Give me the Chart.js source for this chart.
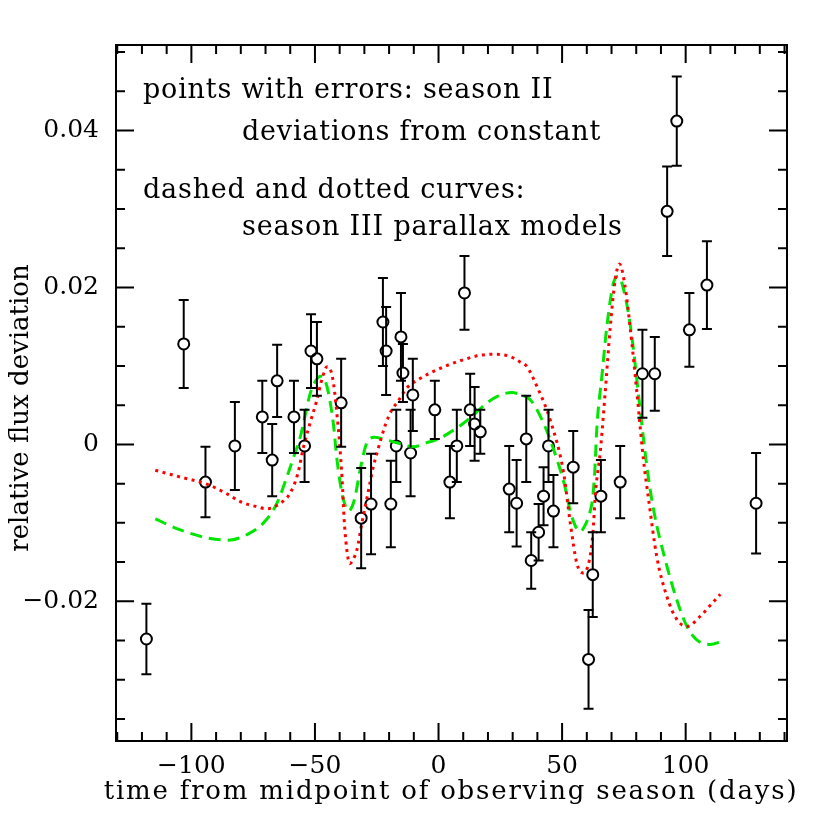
<!DOCTYPE html>
<html>
<head>
<meta charset="utf-8">
<script src="https://cdn.jsdelivr.net/npm/chart.js@4.4.1/dist/chart.umd.min.js"></script>
<style>
  html, body { margin: 0; padding: 0; background: #fff; }
</style>
</head>
<body>
<canvas id="myChart" width="830" height="830"></canvas>
<script>
// season II points (days, relative flux deviation, 1-sigma error)
var tDays = [-118.2, -103.1, -94.3, -82.4, -71.3, -67.3, -65.3, -58.5, -54.2, -51.6,
             -49.2, -39.4, -31.3, -27.3, -22.5, -21.2, -19.3, -17.1, -15.2, -14.4,
             -11.3, -10.4, -1.5, 4.6, 7.4, 10.5, 12.8, 14.6, 16.9, 28.6,
             31.6, 35.5, 37.5, 40.5, 42.5, 44.5, 46.5, 54.5, 60.7, 62.4,
             65.7, 73.5, 82.5, 87.5, 92.5, 96.4, 101.5, 108.6, 128.5];
var flux = [-0.0248, 0.0128, -0.0048, -0.0002, 0.0035, -0.0020, 0.0081, 0.0035, -0.0002, 0.0119,
            0.0109, 0.0053, -0.0094, -0.0076, 0.0156, 0.0119, -0.0076, -0.0002, 0.0137, 0.0091,
            -0.0011, 0.0063, 0.0044, -0.0048, -0.0002, 0.0193, 0.0044, 0.0026, 0.0016, -0.0057,
            -0.0075, 0.0007, -0.0148, -0.0112, -0.0066, -0.0002, -0.0085, -0.0029, -0.0274, -0.0166,
            -0.0066, -0.0048, 0.0090, 0.0090, 0.0297, 0.0412, 0.0146, 0.0203, -0.0075];
var fluxErr = [0.0045, 0.0056, 0.0045, 0.0056, 0.0046, 0.0046, 0.0046, 0.0046, 0.0046, 0.0047,
               0.0047, 0.0056, 0.0064, 0.0064, 0.0056, 0.0056, 0.0055, 0.0046, 0.0056, 0.0037,
               0.0055, 0.0046, 0.0037, 0.0046, 0.0046, 0.0047, 0.0046, 0.0047, 0.0028, 0.0055,
               0.0055, 0.0055, 0.0036, 0.0036, 0.0037, 0.0046, 0.0046, 0.0046, 0.0063, 0.0054,
               0.0046, 0.0046, 0.0056, 0.0047, 0.0057, 0.0057, 0.0047, 0.0056, 0.0064];

// season III parallax models
var dottedT = [-114.6, -104, -94.3, -85, -80.2, -74, -69.4, -64, -60, -57,
               -54.6, -52, -49.2, -47, -45.1, -44, -42.5, -41, -40, -39,
               -38.2, -37.2, -35.9, -34.6, -33, -31, -28.3, -26.5, -24.9, -21.5,
               -18.9, -16.8, -12.8, -8, -3.4, 3, 10.1, 16, 22.2, 29,
               33, 35.8, 39.8, 45.2, 50.6, 53.3, 56, 58.6, 61, 62.4,
               63.6, 65.4, 67.4, 69.5, 71.5, 73.2, 75.5, 77.5, 80.3, 82.9,
               85, 88.3, 92.4, 96.4, 100.5, 105.9, 110, 114];
var dottedF = [-0.0033, -0.0042, -0.0050, -0.0064, -0.0073, -0.0079, -0.0082, -0.0075, -0.0062, -0.0038,
               -0.0003, 0.0027, 0.0057, 0.0085, 0.0099, 0.0097, 0.0078, 0.0035, 0.0000, -0.0045,
               -0.0095, -0.0132, -0.0152, -0.0147, -0.0134, -0.0100, -0.0058, -0.0030, -0.0011, 0.0025,
               0.0044, 0.0053, 0.0072, 0.0083, 0.0091, 0.0100, 0.0108, 0.0113, 0.0115, 0.0112,
               0.0105, 0.0099, 0.0074, 0.0031, -0.0036, -0.0100, -0.0152, -0.0164, -0.0148, -0.0115,
               -0.0058, -0.0011, 0.0065, 0.0150, 0.0210, 0.0230, 0.0201, 0.0150, 0.0065, -0.0019,
               -0.0070, -0.0143, -0.0194, -0.0223, -0.0232, -0.0219, -0.0205, -0.0191];

var dashedT = [-114.6, -104.5, -92.4, -85, -77.5, -70.8, -65.4, -61.3, -58.5, -55.9,
               -51.9, -49.5, -47.9, -46, -44.5, -42.5, -41.1, -39.1, -37.5, -36.4,
               -34.8, -33.7, -31.7, -29, -26, -23.6, -16.8, -10.1, -5, -0.6,
               5, 10.1, 15, 19.6, 25, 29.7, 34, 37.1, 42.5, 47.9,
               51, 53.3, 55.5, 57.3, 59.3, 60.7, 62.3, 63.2, 64.1, 66.1,
               68.1, 70.8, 72.8, 75.5, 78.2, 81.6, 84.3, 87, 92.4, 96.4,
               100.5, 104.5, 109.9, 114.6];
var dashedF = [-0.0095, -0.0109, -0.0120, -0.0122, -0.0115, -0.0100, -0.0075, -0.0041, -0.0015, 0.0010,
               0.0065, 0.0082, 0.0087, 0.0082, 0.0065, 0.0025, -0.0019, -0.0062, -0.0080, -0.0085,
               -0.0078, -0.0066, -0.0032, 0.0002, 0.0009, 0.0008, 0.0002, -0.0003, 0.0002, 0.0006,
               0.0016, 0.0027, 0.0040, 0.0053, 0.0063, 0.0066, 0.0062, 0.0057, 0.0027, -0.0019,
               -0.0052, -0.0085, -0.0105, -0.0111, -0.0103, -0.0092, -0.0070, -0.0035, 0.0023, 0.0087,
               0.0150, 0.0206, 0.0214, 0.0189, 0.0138, 0.0044, -0.0028, -0.0083, -0.0155, -0.0198,
               -0.0232, -0.0249, -0.0255, -0.0251];

var noteLines = ['points with errors: season II', 'deviations from constant',
                 'dashed and dotted curves:', 'season III parallax models'];

var FONT = "'DejaVu Serif', serif";

function xy(xs, ys) {
  return xs.map(function (v, i) { return {x: v, y: ys[i]}; });
}
function fmtTick(v, digits) {
  if (Math.abs(v) < 1e-9) return '0';
  var s = Math.abs(v).toFixed(digits);
  return v < 0 ? '\u2212' + s : s;
}

var framePlugin = {
  id: 'frame',
  afterDatasetsDraw: function (chart) {
    var ctx = chart.ctx, xs = chart.scales.x, ys = chart.scales.y;
    ctx.save();
    ctx.strokeStyle = '#000';
    ctx.lineWidth = 2;
    var r = 5.5, cap = 5;
    for (var i = 0; i < tDays.length; i++) {
      var px = xs.getPixelForValue(tDays[i]);
      var pc = ys.getPixelForValue(flux[i]);
      var pt = ys.getPixelForValue(flux[i] + fluxErr[i]);
      var pb = ys.getPixelForValue(flux[i] - fluxErr[i]);
      ctx.beginPath();
      ctx.moveTo(px, pt); ctx.lineTo(px, pc - r);
      ctx.moveTo(px, pc + r); ctx.lineTo(px, pb);
      ctx.moveTo(px - cap, pt); ctx.lineTo(px + cap, pt);
      ctx.moveTo(px - cap, pb); ctx.lineTo(px + cap, pb);
      ctx.stroke();
    }
    ctx.restore();
  },
  afterDraw: function (chart) {
    var ctx = chart.ctx, a = chart.chartArea, xs = chart.scales.x, ys = chart.scales.y;
    ctx.save();
    ctx.strokeStyle = '#000';
    ctx.lineWidth = 2;
    ctx.strokeRect(a.left, a.top, a.right - a.left, a.bottom - a.top);
    ctx.beginPath();
    // x ticks every 10 days, major every 50
    for (var k = -13; k <= 14; k++) {
      var px = xs.getPixelForValue(k * 10);
      var len = (k % 5 === 0) ? 18 : 9;
      ctx.moveTo(px, a.bottom); ctx.lineTo(px, a.bottom - len);
      ctx.moveTo(px, a.top); ctx.lineTo(px, a.top + len);
    }
    // y ticks every 0.005, major every 0.02
    for (var j = -7; j <= 10; j++) {
      var py = ys.getPixelForValue(j * 0.005);
      var l2 = (j % 4 === 0) ? 18 : 9;
      ctx.moveTo(a.left, py); ctx.lineTo(a.left + l2, py);
      ctx.moveTo(a.right, py); ctx.lineTo(a.right - l2, py);
    }
    ctx.stroke();

    // annotation text
    ctx.fillStyle = '#000';
    ctx.textBaseline = 'alphabetic';
    ctx.textAlign = 'left';
    ctx.font = '27px ' + FONT;
    ctx.letterSpacing = '0.8px';
    ctx.fillText(noteLines[0], 143, 98);
    ctx.fillText(noteLines[1], 242, 140);
    ctx.fillText(noteLines[2], 143, 198);
    ctx.fillText(noteLines[3], 242, 235);

    // axis titles
    ctx.font = '26px ' + FONT;
    ctx.letterSpacing = '1.8px';
    ctx.textAlign = 'center';
    ctx.fillText('time from midpoint of observing season (days)', 451, 799);
    ctx.letterSpacing = '0px';
    ctx.font = '26px ' + FONT;
    ctx.translate(28, 408);
    ctx.rotate(-Math.PI / 2);
    ctx.fillText('relative flux deviation', 0, 0);
    ctx.restore();
  }
};

var ctx = document.getElementById('myChart').getContext('2d');
var myChart = new Chart(ctx, {
  type: 'scatter',
  data: {
    datasets: [{
        label: 'dotted model',
        data: xy(dottedT, dottedF),
        showLine: true,
        borderColor: '#ff0000',
        borderWidth: 3,
        borderDash: [3, 4.5],
        cubicInterpolationMode: 'monotone',
        pointRadius: 0,
        fill: false
      }, {
        label: 'dashed model',
        data: xy(dashedT, dashedF),
        showLine: true,
        borderColor: '#00e600',
        borderWidth: 3,
        borderDash: [12, 7],
        cubicInterpolationMode: 'monotone',
        pointRadius: 0,
        fill: false
      }, {
        label: 'season II',
        data: xy(tDays, flux),
        showLine: false,
        pointStyle: 'circle',
        pointRadius: 5.5,
        borderWidth: 2,
        borderColor: '#000',
        backgroundColor: 'rgba(0,0,0,0)'
      }
    ]
  },
  options: {
    responsive: false,
    animation: false,
    layout: { padding: { top: 45, right: 43, left: 0, bottom: 0 } },
    plugins: {
      legend: { display: false },
      tooltip: { enabled: false }
    },
    scales: {
      x: {
        type: 'linear',
        min: -130.5,
        max: 141,
        grid: { display: false, drawTicks: false },
        border: { display: false },
        ticks: {
          stepSize: 50,
          includeBounds: false,
          autoSkip: false,
          maxRotation: 0,
          padding: 10,
          color: '#000',
          font: { family: FONT, size: 25 },
          callback: function (v) { return fmtTick(v, 0); }
        },
        afterFit: function (s) { s.height = 89; }
      },
      y: {
        type: 'linear',
        min: -0.0378,
        max: 0.0509,
        grid: { display: false, drawTicks: false },
        border: { display: false },
        ticks: {
          stepSize: 0.02,
          includeBounds: false,
          padding: 17,
          color: '#000',
          font: { family: FONT, size: 25 },
          callback: function (v) { return fmtTick(v, 2); }
        },
        afterFit: function (s) { s.width = 116; }
      }
    }
  },
  plugins: [framePlugin]
});
</script>
</body>
</html>
